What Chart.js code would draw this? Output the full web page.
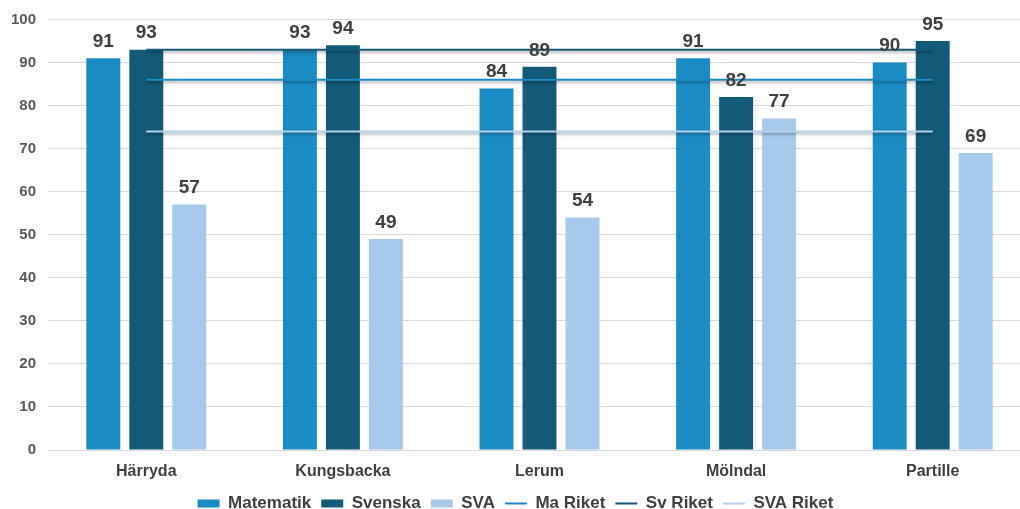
<!DOCTYPE html>
<html>
<head>
<meta charset="utf-8">
<script src="https://cdn.jsdelivr.net/npm/chart.js@4"></script>
<style>
  html, body { margin: 0; padding: 0; background: #fff; overflow: hidden; }
  #wrap { width: 1031px; height: 522px; }
</style>
</head>
<body>
<div id="wrap"><canvas id="chartCanvas"></canvas></div>
<script>
const kommuner = ['Härryda', 'Kungsbacka', 'Lerum', 'Mölndal', 'Partille'];
const matematik = [91, 93, 84, 91, 90];
const svenska = [93, 94, 89, 82, 95];
const sva = [57, 49, 54, 77, 69];
const maRiket = [86, 86, 86, 86, 86];
const svRiket = [93, 93, 93, 93, 93];
const svaRiket = [74, 74, 74, 74, 74];
const yTicks = [0, 10, 20, 30, 40, 50, 60, 70, 80, 90, 100];

const blue = '#1b8bc3';
const darkBlue = '#135a79';
const lightBlue = '#a7c9eb';
const fontFamily = '"Liberation Sans", Arial, sans-serif';

// values above the bars
const barLabels = {
    id: 'barLabels',
    afterDatasetsDraw(chart) {
        const ctx = chart.ctx;
        ctx.save();
        ctx.font = 'bold 19px ' + fontFamily;
        ctx.fillStyle = '#404040';
        ctx.textAlign = 'center';
        ctx.textBaseline = 'bottom';
        chart.data.datasets.forEach((ds, i) => {
            if (ds.type === 'line') return;
            chart.getDatasetMeta(i).data.forEach((bar, j) => {
                ctx.fillText(ds.data[j], bar.x, bar.y - 7);
            });
        });
        ctx.restore();
    }
};

// soft shadow under the Riket lines
const lineShadow = {
    id: 'lineShadow',
    beforeDatasetDraw(chart, args) {
        if (args.meta.type !== 'line') return;
        const ctx = chart.ctx;
        ctx.save();
        ctx.shadowColor = 'rgba(0,0,0,0.35)';
        ctx.shadowBlur = 3;
        ctx.shadowOffsetY = 2;
    },
    afterDatasetDraw(chart, args) {
        if (args.meta.type !== 'line') return;
        chart.ctx.restore();
    }
};

const lineDs = (label, data, color) => ({
    type: 'line',
    label: label,
    data: data,
    borderColor: color,
    backgroundColor: color,
    borderWidth: 2,
    pointRadius: 0,
    pointStyle: 'line',
    fill: false,
    order: 0
});

const barDs = (label, data, color) => ({
    label: label,
    data: data,
    backgroundColor: color,
    borderWidth: 0,
    pointStyle: 'rect',
    categoryPercentage: 0.656,
    barPercentage: 0.79,
    order: 1
});

new Chart(document.getElementById('chartCanvas'), {
    type: 'bar',
    data: {
        labels: kommuner,
        datasets: [
            barDs('Matematik', matematik, blue),
            barDs('Svenska', svenska, darkBlue),
            barDs('SVA', sva, lightBlue),
            lineDs('Ma Riket', maRiket, blue),
            lineDs('Sv Riket', svRiket, darkBlue),
            lineDs('SVA Riket', svaRiket, '#b4d1ee')
        ]
    },
    plugins: [barLabels, lineShadow],
    options: {
        responsive: true,
        maintainAspectRatio: false,
        animation: false,
        layout: { padding: { top: 0, left: 0, right: 0, bottom: 0 } },
        plugins: {
            tooltip: { enabled: false },
            legend: {
                position: 'bottom',
                labels: {
                    usePointStyle: true,
                    pointStyleWidth: 22,
                    boxHeight: 8,
                    padding: 10,
                    color: '#404040',
                    font: { family: fontFamily, size: 17, weight: 'bold' },
                    sort: (a, b) => a.datasetIndex - b.datasetIndex
                }
            }
        },
        scales: {
            x: {
                grid: { display: false },
                border: { display: false },
                afterFit: (s) => { s.height = 35; },
                ticks: {
                    color: '#404040',
                    padding: 4,
                    font: { family: fontFamily, size: 16, weight: 'bold' }
                }
            },
            y: {
                min: 0,
                max: 100,
                afterFit: (s) => { s.width = 48; },
                afterBuildTicks: (s) => { s.ticks = yTicks.map(v => ({ value: v })); },
                grid: { color: '#d9d9d9', drawTicks: false },
                border: { display: false },
                ticks: {
                    color: '#595959',
                    padding: 12,
                    font: { family: fontFamily, size: 15, weight: 'bold', lineHeight: 1 }
                }
            }
        }
    }
});
</script>
</body>
</html>
